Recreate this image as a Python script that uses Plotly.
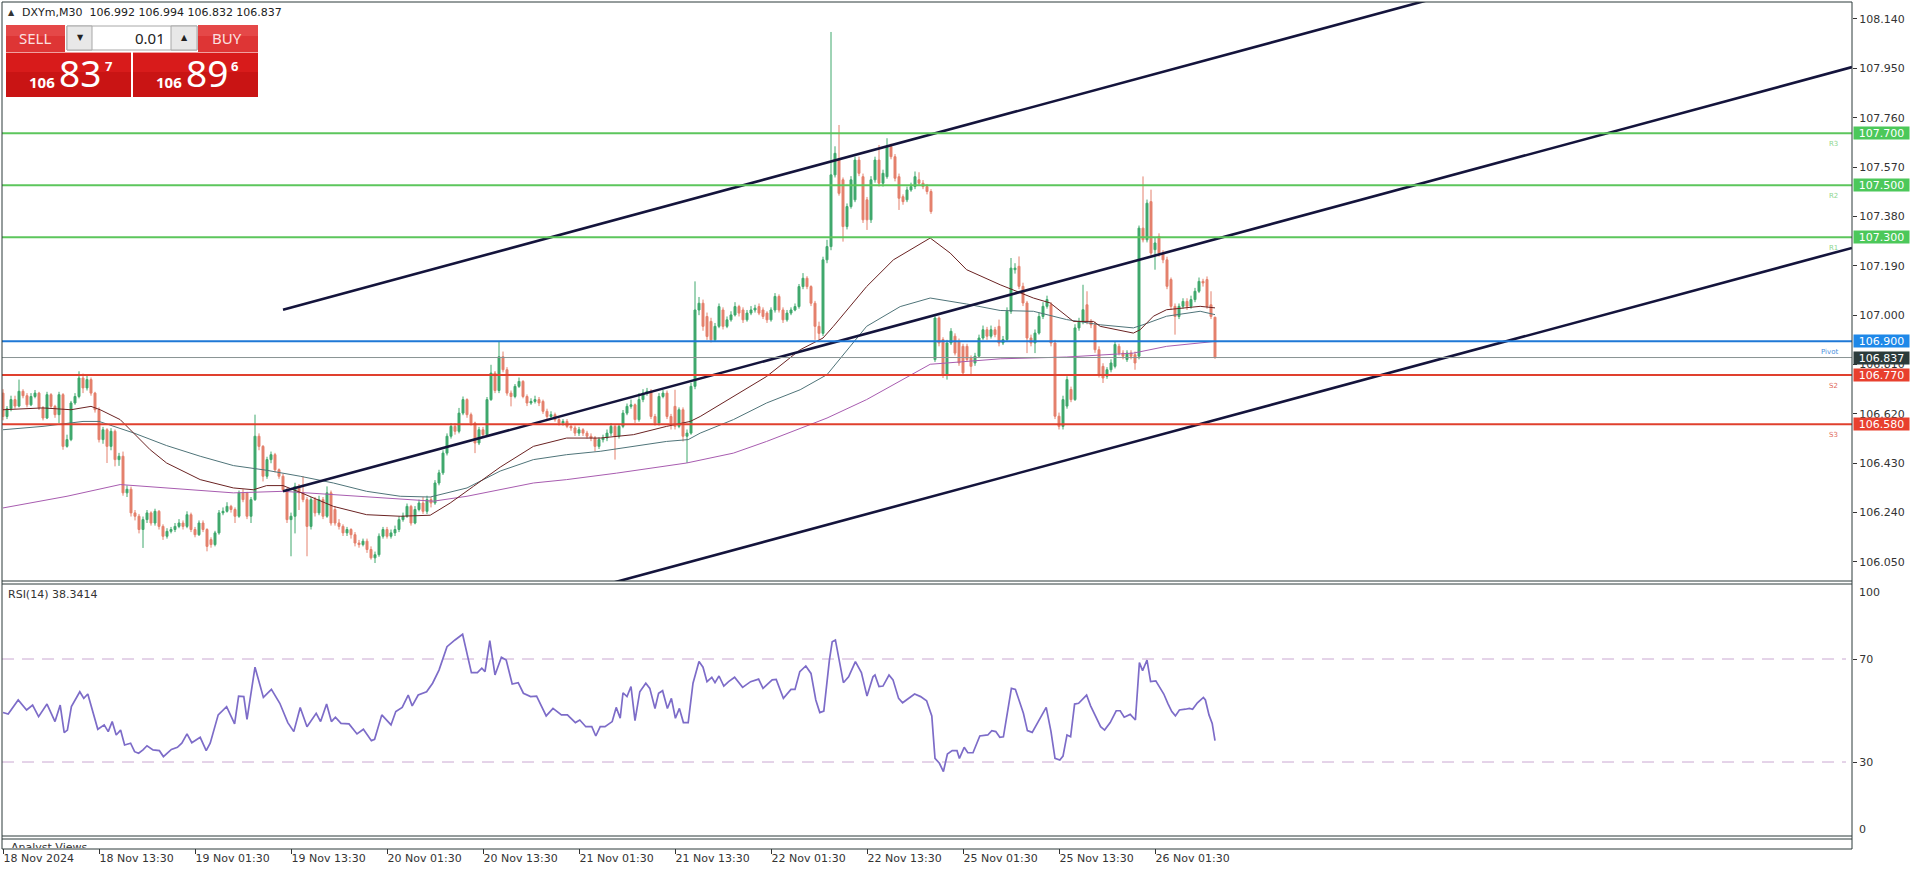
import plotly.graph_objects as go

# ------------------------------------------------------------------ data
bars = list(range(304))
opens = [106.700,106.610,106.640,106.675,106.650,106.707,106.690,106.655,106.687,106.700,
106.643,106.604,106.694,106.649,106.617,106.694,106.495,106.521,106.662,106.687,
106.758,106.720,106.752,106.700,106.636,106.521,106.559,106.495,106.553,106.444,
106.457,106.316,106.330,106.239,106.226,106.175,106.213,106.239,106.200,106.245,
106.187,106.149,106.168,106.175,106.187,106.200,106.187,106.232,106.175,106.155,
106.200,106.175,106.136,106.117,106.162,106.239,106.245,106.264,106.252,106.226,
106.316,106.316,106.226,106.290,106.534,106.495,106.380,106.444,106.463,106.405,
106.380,106.328,106.213,106.226,106.341,106.316,106.290,106.187,106.290,106.239,
106.290,106.226,106.316,106.252,106.200,106.187,106.162,106.175,106.155,106.123,
106.117,106.130,106.098,106.066,106.078,106.149,106.175,106.149,106.162,106.175,
106.213,106.226,106.264,106.200,106.252,106.277,106.245,106.290,106.277,106.354,
106.393,106.469,106.534,106.572,106.553,106.623,106.675,106.617,106.585,106.508,
106.559,106.540,106.675,106.777,106.710,106.840,106.790,106.700,106.687,106.726,
106.745,106.687,106.662,106.668,106.675,106.668,106.630,106.610,106.617,106.598,
106.585,106.591,106.572,106.566,106.546,106.559,106.546,106.534,106.527,106.495,
106.521,106.527,106.546,106.572,106.534,106.572,106.623,106.649,106.655,106.598,
106.675,106.700,106.707,106.610,106.585,106.687,106.700,106.610,106.649,106.572,
106.636,106.534,106.546,106.726,107.020,107.046,106.995,106.976,106.905,106.957,
107.020,106.957,106.982,107.001,107.033,107.020,106.982,107.008,107.020,107.033,
107.020,107.008,106.982,107.020,107.072,107.020,106.982,107.008,107.020,107.033,
107.110,107.142,107.110,107.046,106.957,106.930,107.213,107.264,107.540,107.597,
107.521,107.341,107.418,107.444,107.597,107.533,107.444,107.367,107.521,107.597,
107.508,107.533,107.649,107.610,107.533,107.456,107.444,107.482,107.495,107.521,
107.508,107.495,107.476,106.829,106.989,106.906,106.771,106.893,106.919,106.899,
106.880,106.880,106.835,106.816,106.842,106.912,106.944,106.919,106.944,106.957,
106.893,106.906,107.015,107.175,107.188,107.111,107.047,106.912,106.893,106.931,
106.995,107.034,107.040,106.893,106.611,106.572,106.650,106.714,106.675,106.951,
106.976,107.040,106.976,106.963,106.867,106.803,106.765,106.790,106.803,106.880,
106.854,106.829,106.854,106.848,106.842,107.335,107.290,107.437,107.252,107.303,
107.239,107.213,107.137,107.034,106.995,107.034,107.053,107.034,107.060,107.092,
107.130,107.137,107.040,106.992]
closes = [106.610,106.640,106.675,106.650,106.707,106.690,106.655,106.687,106.700,106.643,
106.604,106.694,106.649,106.617,106.694,106.495,106.521,106.662,106.687,106.758,
106.720,106.752,106.700,106.636,106.521,106.559,106.495,106.553,106.444,106.457,
106.316,106.330,106.239,106.226,106.175,106.213,106.239,106.200,106.245,106.187,
106.149,106.168,106.175,106.187,106.200,106.187,106.232,106.175,106.155,106.200,
106.175,106.110,106.117,106.162,106.239,106.245,106.264,106.252,106.226,106.316,
106.290,106.226,106.290,106.534,106.495,106.380,106.444,106.463,106.405,106.380,
106.328,106.213,106.226,106.341,106.316,106.290,106.187,106.290,106.239,106.290,
106.226,106.316,106.200,106.200,106.187,106.162,106.175,106.155,106.123,106.117,
106.130,106.098,106.066,106.078,106.149,106.175,106.149,106.162,106.175,106.213,
106.226,106.264,106.200,106.252,106.277,106.245,106.290,106.277,106.354,106.393,
106.469,106.534,106.572,106.553,106.623,106.675,106.617,106.585,106.508,106.559,
106.540,106.675,106.777,106.710,106.840,106.790,106.700,106.687,106.726,106.745,
106.687,106.662,106.668,106.675,106.662,106.630,106.610,106.617,106.598,106.585,
106.591,106.572,106.566,106.546,106.559,106.546,106.534,106.527,106.495,106.521,
106.527,106.546,106.572,106.534,106.572,106.623,106.649,106.655,106.598,106.675,
106.700,106.707,106.610,106.585,106.687,106.700,106.610,106.585,106.572,106.636,
106.534,106.546,106.726,107.020,107.046,106.957,106.918,106.905,106.957,107.033,
106.957,106.982,107.001,107.033,107.008,106.982,107.008,107.020,107.027,107.008,
106.995,106.982,107.020,107.072,107.020,106.982,107.008,107.020,107.033,107.110,
107.142,107.110,107.046,106.957,106.930,107.213,107.264,107.540,107.623,107.469,
107.341,107.418,107.521,107.597,107.546,107.367,107.367,107.521,107.597,107.508,
107.546,107.649,107.610,107.527,107.450,107.437,107.482,107.495,107.533,107.508,
107.495,107.476,107.399,106.989,106.893,106.771,106.893,106.938,106.854,106.816,
106.778,106.829,106.803,106.842,106.912,106.944,106.919,106.944,106.925,106.893,
106.906,107.015,107.181,107.181,107.111,107.047,106.912,106.893,106.931,106.995,
107.034,107.060,106.893,106.611,106.572,106.675,106.752,106.675,106.951,106.976,
107.021,106.976,106.963,106.867,106.771,106.758,106.790,106.816,106.887,106.854,
106.842,106.854,106.842,106.816,107.335,107.290,107.431,107.239,107.278,107.239,
107.213,107.111,107.034,106.995,107.034,107.053,107.034,107.060,107.092,107.130,
107.124,107.034,106.995,106.837]
highs = [106.715,106.650,106.690,106.690,106.752,106.715,106.700,106.700,106.712,106.705,
106.650,106.705,106.700,106.655,106.705,106.700,106.540,106.670,106.700,106.784,
106.775,106.770,106.760,106.705,106.645,106.570,106.565,106.565,106.560,106.470,
106.475,106.345,106.340,106.250,106.235,106.225,106.250,106.245,106.255,106.250,
106.195,106.180,106.185,106.200,106.215,106.210,106.245,106.240,106.185,106.210,
106.210,106.180,106.145,106.170,106.250,106.260,106.280,106.270,106.260,106.325,
106.330,106.320,106.300,106.617,106.545,106.500,106.455,106.475,106.470,106.410,
106.390,106.335,106.240,106.355,106.350,106.380,106.300,106.300,106.300,106.305,
106.300,106.341,106.325,106.265,106.215,106.195,106.185,106.180,106.165,106.135,
106.140,106.140,106.110,106.090,106.160,106.185,106.185,106.175,106.190,106.225,
106.240,106.275,106.270,106.265,106.290,106.300,106.305,106.300,106.365,106.405,
106.480,106.545,106.585,106.585,106.643,106.687,106.680,106.625,106.590,106.570,
106.570,106.685,106.809,106.785,106.900,106.860,106.800,106.710,106.735,106.760,
106.750,106.695,106.680,106.690,106.685,106.675,106.640,106.630,106.625,106.605,
106.600,106.600,106.580,106.575,106.570,106.565,106.555,106.545,106.535,106.530,
106.540,106.560,106.585,106.580,106.580,106.635,106.660,106.675,106.660,106.700,
106.715,106.720,106.715,106.620,106.700,106.712,106.710,106.620,106.713,106.645,
106.645,106.560,106.740,107.130,107.070,107.060,107.010,106.990,106.970,107.045,
107.030,106.995,107.015,107.050,107.040,107.030,107.020,107.035,107.040,107.045,
107.030,107.015,107.030,107.085,107.080,107.030,107.020,107.030,107.045,107.120,
107.162,107.150,107.115,107.055,106.975,107.225,107.290,108.090,107.650,107.732,
107.530,107.430,107.535,107.610,107.610,107.545,107.455,107.535,107.610,107.655,
107.560,107.681,107.660,107.620,107.545,107.465,107.495,107.510,107.553,107.550,
107.520,107.505,107.485,106.996,106.995,106.915,106.905,106.950,106.930,106.910,
106.890,106.890,106.845,106.855,106.925,106.960,106.955,106.960,106.955,106.983,
106.920,107.030,107.220,107.200,107.226,107.125,107.055,106.925,106.945,107.010,
107.050,107.075,107.050,106.905,106.625,106.690,106.765,106.725,106.965,106.990,
107.117,107.092,106.985,106.975,106.880,106.815,106.800,106.830,106.900,106.890,
106.865,106.865,106.865,106.860,107.345,107.534,107.445,107.483,107.300,107.315,
107.250,107.225,107.145,107.045,107.045,107.065,107.065,107.075,107.105,107.145,
107.140,107.149,107.092,106.994]
lows = [106.595,106.600,106.630,106.640,106.645,106.680,106.645,106.650,106.680,106.635,
106.595,106.600,106.640,106.605,106.585,106.482,106.490,106.515,106.655,106.680,
106.700,106.710,106.690,106.625,106.510,106.505,106.431,106.480,106.418,106.420,
106.305,106.300,106.225,106.210,106.160,106.104,106.200,106.190,106.190,106.175,
106.135,106.140,106.160,106.165,106.180,106.175,106.180,106.165,106.145,106.150,
106.165,106.091,106.105,106.110,106.155,106.230,106.240,106.240,106.200,106.220,
106.280,106.215,106.200,106.285,106.480,106.360,106.370,106.430,106.395,106.370,
106.320,106.200,106.072,106.160,106.250,106.280,106.072,106.175,106.225,106.230,
106.215,106.220,106.190,106.190,106.175,106.150,106.150,106.140,106.110,106.105,
106.110,106.085,106.059,106.046,106.070,106.140,106.140,106.140,106.150,106.165,
106.205,106.220,106.190,106.195,106.245,106.235,106.235,106.260,106.270,106.345,
106.385,106.460,106.525,106.540,106.545,106.615,106.605,106.575,106.469,106.500,
106.530,106.535,106.670,106.700,106.700,106.780,106.690,106.649,106.680,106.720,
106.680,106.650,106.655,106.660,106.650,106.620,106.600,106.600,106.590,106.575,
106.575,106.565,106.555,106.535,106.535,106.535,106.525,106.515,106.476,106.485,
106.510,106.515,106.535,106.444,106.525,106.565,106.615,106.640,106.585,106.590,
106.665,106.690,106.600,106.575,106.575,106.680,106.600,106.560,106.560,106.565,
106.514,106.431,106.540,106.715,107.000,106.940,106.905,106.895,106.900,106.950,
106.945,106.950,106.975,106.995,106.995,106.970,106.975,107.000,107.010,107.000,
106.985,106.970,106.975,107.010,107.010,106.970,106.975,107.000,107.015,107.025,
107.100,107.100,107.035,106.905,106.905,106.920,107.200,107.250,107.530,107.460,
107.283,107.330,107.410,107.435,107.535,107.355,107.328,107.355,107.510,107.495,
107.495,107.525,107.600,107.515,107.405,107.425,107.435,107.475,107.485,107.500,
107.485,107.465,107.390,106.820,106.880,106.758,106.752,106.885,106.845,106.805,
106.771,106.820,106.771,106.805,106.835,106.905,106.905,106.910,106.915,106.880,
106.885,106.900,107.005,107.160,107.100,107.035,106.854,106.880,106.854,106.925,
106.985,107.025,106.880,106.600,106.560,106.560,106.640,106.665,106.670,106.940,
106.965,106.965,106.950,106.855,106.760,106.739,106.755,106.780,106.795,106.845,
106.830,106.820,106.830,106.790,106.830,107.280,107.280,107.225,107.175,107.225,
107.200,107.100,107.020,106.925,106.985,107.025,107.020,107.025,107.050,107.085,
107.110,107.025,106.985,106.832]

# moving averages, read at intervals (bar index, price)
ma_fast_bar = [0,10,17,22,24.3,29.3,32.6,36.8,40.9,49.3,57.6,62.6,65.9,70,74.3,82.6,90.9,99.3,106.8,111.8,117.6,
               124.3,132.6,140.9,149.3,157.6,165.9,171.8,174.3,182.6,190.9,199.3,205,207.6,215.9,222.6,228,231.8,
               236.8,240.9,249.3,257.6,261.8,267.6,272.6,274.3,282.6,284.3,287.6,290.9,299.3,303]
ma_fast_val = [106.636,106.643,106.636,106.649,106.636,106.598,106.547,106.482,106.431,106.367,106.335,106.328,106.344,106.344,106.318,106.264,106.232,106.226,106.230,106.277,106.341,
               106.415,106.495,106.527,106.527,106.540,106.572,106.591,106.610,106.687,106.764,106.867,106.912,106.957,107.110,107.213,107.264,107.297,
               107.239,107.175,107.117,107.066,107.047,106.976,106.976,106.957,106.931,106.944,106.996,107.021,107.034,107.028]
ma_mid_bar = [0,10,20,24,32.6,40.9,49.3,57.6,65.9,74.3,82.6,90.9,99.3,106.8,116,124.3,132.6,140.9,149.3,157.6,165.9,
              171.3,174.3,182.6,190.9,199.3,206,215.9,224.3,231.8,240.9,249.3,257.6,265.9,274.3,282.6,285,290.9,299.3,303]
ma_mid_val = [106.559,106.572,106.591,106.591,106.547,106.498,106.457,106.421,106.403,106.380,106.354,106.322,106.303,106.300,106.335,106.400,106.444,106.463,106.476,106.495,106.514,
              106.521,106.546,106.598,106.662,106.713,106.771,106.957,107.033,107.066,107.043,107.018,107.015,106.983,106.963,106.951,106.963,106.996,107.015,107.002]
ma_slow_bar = [0,16,29.3,40.9,57.6,70,82.6,99.3,107.6,116,124.3,132.6,140.9,153.4,170.9,182.6,190.9,206,215.9,224.3,
               231.8,249.3,265.9,282.6,290.9,303]
ma_slow_val = [106.258,106.303,106.348,106.335,106.316,106.322,106.309,106.290,106.284,106.303,106.328,106.354,106.367,106.392,106.431,106.469,106.514,106.604,106.675,106.748,
               106.811,106.832,106.839,106.854,106.880,106.899]

# equidistant channel (bar index, price)
channel_bar = [70, 462.25]
channel_upper = [107.021, 108.654]
channel_middle = [106.322, 107.955]
channel_lower_bar = [150, 462.25]
channel_lower = [105.960, 107.259]

# pivot levels
levels = [107.700, 107.500, 107.300, 106.900, 106.770, 106.580]
level_names = ["R3", "R2", "R1", "Pivot", "S2", "S3"]
last_price = 106.837

price_ticks = [106.050, 106.240, 106.430, 106.620, 106.810, 107.000, 107.190, 107.380, 107.570, 107.760, 107.950, 108.140]

# RSI(14), read at intervals (bar index, value)
rsi_x = [0,1.3,3.8,5.9,7.4,8.9,11,13,14.3,15.3,16.1,17.1,19.2,20.2,21.2,23.7,25.3,26.3,27.3,28.3,29.4,30.4,31.9,32.9,33.9,35,36,37.5,
         39.1,40.1,42.1,43.6,44.7,46,47.2,49.3,50.8,51.8,53.8,55.9,57.9,58.9,60.2,61,63,65.1,67.1,69.2,71.2,72.7,74.3,76,78.3,79.4,
         80.9,82.1,83.1,84.5,86.5,88.5,90.1,92.1,92.9,94.7,97,98.2,99.8,101.3,102.3,103.8,105.9,107.4,109,111,113,114.9,117.1,118.6,
         119.7,120.5,121.7,123,124.6,125.8,127.3,128.8,130.1,131.9,133.4,135.8,137.5,139.6,141.1,143.1,144.2,145.7,147.2,148.2,149.3,
         150.5,152.3,153.3,154.3,155,156,157,158,159.2,160.7,161.7,163,163.9,164.9,166.1,167.1,168.1,169.1,170.1,171.3,172.5,174,175,
         176,177.2,178,179,180.2,181.4,182.9,184.9,186.9,188.9,190,192.3,193.3,195.1,197,198,199.2,200.7,202,203.2,204.2,205.2,206.6,
         207.3,208.1,210.1,211.4,213.1,214.6,216,217.5,218,219,220,221.5,222.5,223.9,224.9,227.9,229.4,230.9,232.2,233,234.1,235.1,
         236.1,237.3,238.5,239.1,240.3,241.2,242.5,244.2,246.2,247.2,248.2,249.2,250.1,252.1,253.1,255.1,256.1,257.3,259,260.8,262,
         263,264.2,265,266,266.9,267.9,268.9,270.9,271.9,274.4,275.4,276.8,278.3,279.3,280.3,281.8,283.1,284.1,284.9,286,286.9,288.2,
         290.2,291.2,292.2,293.1,294.1,295.6,296.6,297.4,298.6,300.1,300.6,301.5,302.3,303]
rsi_y = [49.2,48.6,54.1,50.2,52.1,47.6,52.5,45.7,52.1,41.4,42.4,51.5,57.3,54.7,56.4,42.7,44.4,41.8,45.7,40.5,42.4,36.6,37.3,34.0,33.4,34.7,36.3,34.7,
         34.4,32.1,34.9,35.7,37.3,40.9,37.5,39.6,34.4,37.3,48.3,51.5,44.8,55.6,55.4,46.6,66.8,55.1,58.2,52.8,45.3,41.8,51.2,43.7,48.9,45.7,
         52.5,45.7,47.4,45.0,44.8,40.9,42.7,38.3,38.8,48.3,44.4,49.6,51.2,56.0,51.8,56.0,57.3,60.6,65.7,74.8,77.4,79.6,64.7,64.7,
         66.4,65.1,77.1,63.8,70.7,69.6,60.3,60.8,56.7,55.4,55.6,47.9,50.8,48.3,48.3,45.3,46.3,43.7,43.7,40.1,43.7,
         43.7,45.7,51.2,47.0,56.9,55.4,59.3,46.1,57.3,60.6,58.6,50.8,56.7,57.7,50.8,54.7,47.0,50.8,45.3,45.3,60.6,69.0,66.8,
         61.2,62.9,60.8,63.4,59.5,61.2,62.9,59.0,61.2,62.2,58.6,61.9,62.1,54.7,58.2,58.2,65.1,67.3,64.4,54.1,49.2,49.8,69.6,
         76.7,77.4,60.8,63.1,69.0,64.7,55.6,63.1,63.8,59.3,59.5,63.8,61.9,54.7,53.0,56.4,55.4,53.8,47.9,31.4,29.5,26.3,
         33.1,34.4,34.4,31.4,35.7,33.6,33.6,40.1,40.5,42.2,41.8,39.6,39.8,58.6,58.2,48.9,42.2,41.5,46.3,51.2,41.8,
         31.4,30.8,32.3,40.5,39.8,52.5,52.8,56.0,51.8,43.7,42.4,45.3,49.9,49.9,47.4,48.5,46.3,68.6,65.5,69.6,61.2,61.5,
         56.4,52.8,49.6,47.9,50.2,50.5,50.8,50.5,53.0,55.1,54.1,48.3,45.0,38.34]
rsi_levels = [70, 30]

time_tick_bars = [0, 24, 48, 72, 96, 120, 144, 168, 192, 216, 240, 264, 288]
time_tick_labels = ["18 Nov 2024", "18 Nov 13:30", "19 Nov 01:30", "19 Nov 13:30", "20 Nov 01:30", "20 Nov 13:30",
                    "21 Nov 01:30", "21 Nov 13:30", "22 Nov 01:30", "22 Nov 13:30", "25 Nov 01:30", "25 Nov 13:30",
                    "26 Nov 01:30"]

# ------------------------------------------------------------------ styling helpers
FONT = "DejaVu Sans"
UP, DN = "#3fa86c", "#e4806c"
FRAME = "#2d3b3b"
W_PX, H_PX = 1916, 874
L, R, T, B = 2, 64, 2, 26


def fx(x):
    return (x - L) / (W_PX - L - R)


def fy(y):
    return (H_PX - B - y) / (H_PX - T - B)


fig = go.Figure()

fig.add_trace(go.Candlestick(
    x=bars, open=opens, high=highs, low=lows, close=closes,
    increasing=dict(line=dict(color=UP, width=1), fillcolor=UP),
    decreasing=dict(line=dict(color=DN, width=1), fillcolor=DN),
    whiskerwidth=0, xaxis="x", yaxis="y", hoverinfo="skip", showlegend=False))

for xs, ys, col in [(ma_slow_bar, ma_slow_val, "#a85cb0"),
                    (ma_mid_bar, ma_mid_val, "#4f7479"),
                    (ma_fast_bar, ma_fast_val, "#6a2222")]:
    fig.add_trace(go.Scatter(x=xs, y=ys, mode="lines", line=dict(color=col, width=1),
                             xaxis="x", yaxis="y", hoverinfo="skip", showlegend=False))

for xs, ys in [(channel_bar, channel_upper), (channel_bar, channel_middle), (channel_lower_bar, channel_lower)]:
    fig.add_trace(go.Scatter(x=xs, y=ys, mode="lines", line=dict(color="#14143c", width=2.6),
                             xaxis="x", yaxis="y", hoverinfo="skip", showlegend=False))

fig.add_trace(go.Scatter(x=rsi_x, y=rsi_y, mode="lines", line=dict(color="#7d6cc8", width=1.7),
                         xaxis="x", yaxis="y2", hoverinfo="skip", showlegend=False))

# "Analyst Views" sub-window title, clipped by its very short window
fig.add_trace(go.Scatter(x=[2], y=[-1.1], mode="text", text=["Analyst Views"], textposition="middle right",
                         textfont=dict(family=FONT, size=11, color="#333333"), cliponaxis=True,
                         xaxis="x", yaxis="y3", hoverinfo="skip", showlegend=False))

shapes = []
annotations = []

# pivot level lines and their axis tags
lvl_line = ["#5cc65c", "#5cc65c", "#5cc65c", "#1f78d6", "#e0402e", "#e0402e"]
lvl_box = ["#4cc85a", "#4cc85a", "#4cc85a", "#1e88e8", "#e8402e", "#e8402e"]
lvl_txt = ["#8fd68f", "#8fd68f", "#8fd68f", "#4a8fdc", "#e06a5a", "#e06a5a"]
for lv, name, lc, bc, tc in zip(levels, level_names, lvl_line, lvl_box, lvl_txt):
    shapes.append(dict(type="line", xref="paper", yref="y", x0=0, x1=1, y0=lv, y1=lv,
                       line=dict(color=lc, width=2), layer="above"))
    annotations.append(dict(xref="paper", yref="y", x=fx(1840), y=lv, xanchor="right", yanchor="middle",
                            yshift=-11, text=name, showarrow=False, font=dict(family=FONT, size=7, color=tc)))
    annotations.append(dict(xref="paper", yref="y", x=fx(1853), y=lv, xanchor="left", yanchor="middle",
                            text=f"{lv:.3f}", showarrow=False, bgcolor=bc, width=55, height=12, borderpad=0,
                            font=dict(family=FONT, size=11, color="white")))
shapes.append(dict(type="line", xref="paper", yref="y", x0=0, x1=1, y0=last_price, y1=last_price,
                   line=dict(color="#8a9494", width=1), layer="above"))
annotations.append(dict(xref="paper", yref="y", x=fx(1853), y=last_price, xanchor="left", yanchor="middle",
                        text=f"{last_price:.3f}", showarrow=False, bgcolor="#2b3b3b", width=55, height=12,
                        borderpad=0, font=dict(family=FONT, size=11, color="white")))

# RSI reference levels
for lv in rsi_levels:
    shapes.append(dict(type="line", xref="paper", yref="y2", x0=0, x1=fx(1846), y0=lv, y1=lv,
                       line=dict(color="#caa8d2", width=1, dash="12px,8px"), layer="below"))
annotations.append(dict(xref="paper", yref="paper", x=fx(1857), y=fy(592), xanchor="left", yanchor="middle",
                        text="100", showarrow=False, font=dict(family=FONT, size=11, color="#333333")))
annotations.append(dict(xref="paper", yref="paper", x=fx(1857), y=fy(829), xanchor="left", yanchor="middle",
                        text="0", showarrow=False, font=dict(family=FONT, size=11, color="#333333")))
annotations.append(dict(xref="paper", yref="paper", x=fx(6), y=fy(594), xanchor="left", yanchor="middle",
                        text="RSI(14) 38.3414", showarrow=False, font=dict(family=FONT, size=11, color="#333333")))

# window frames
for y in [2, 581, 584, 836, 839, 849]:
    shapes.append(dict(type="line", xref="paper", yref="paper", x0=fx(2), x1=fx(1852), y0=fy(y), y1=fy(y),
                       line=dict(color=FRAME, width=1), layer="above"))
for x in [2, 1852]:
    shapes.append(dict(type="line", xref="paper", yref="paper", x0=fx(x), x1=fx(x), y0=fy(2), y1=fy(849),
                       line=dict(color=FRAME, width=1), layer="above"))

# title
annotations.append(dict(xref="paper", yref="paper", x=fx(6), y=fy(13), xanchor="left", yanchor="middle",
                        text="\u25b2", showarrow=False, font=dict(family=FONT, size=8, color="#333333")))
annotations.append(dict(xref="paper", yref="paper", x=fx(20), y=fy(13), xanchor="left", yanchor="middle",
                        text="DXYm,M30\u00a0\u00a0106.992 106.994 106.832 106.837", showarrow=False,
                        font=dict(family=FONT, size=11, color="#222222")))


# one-click trading panel
def rect(x0, y0, x1, y1, fill, lc=None, lw=0):
    shapes.append(dict(type="rect", xref="paper", yref="paper", x0=fx(x0), x1=fx(x1), y0=fy(y1), y1=fy(y0),
                       fillcolor=fill, line=dict(color=lc or fill, width=lw), layer="above"))


def label(x, y, text, size, color, fam="Noto Sans", bold=False):
    t = f"<b>{text}</b>" if bold else text
    annotations.append(dict(xref="paper", yref="paper", x=fx(x), y=fy(y), xanchor="center", yanchor="middle",
                            text=t, showarrow=False, font=dict(family=fam, size=size, color=color)))


rect(6, 25, 65, 52, "#de3535")
rect(6, 25, 65, 36, "#e54848")
rect(198, 25, 258, 52, "#de3535")
rect(198, 25, 258, 36, "#e54848")
rect(67, 26, 197, 50, "#ffffff", "#a8a8a8", 1)
rect(67, 26, 92, 50, "#e8e8e8", "#a8a8a8", 1)
rect(171, 26, 197, 50, "#e8e8e8", "#a8a8a8", 1)
for x0, x1 in [(6, 131), (133, 258)]:
    rect(x0, 52, x1, 97, "#c91414")
    rect(x0, 52, x1, 72, "#d81b1b")
    shapes.append(dict(type="line", xref="paper", yref="paper", x0=fx(x0), x1=fx(x1), y0=fy(52.5), y1=fy(52.5),
                       line=dict(color="#f0a0a0", width=1), layer="above"))
label(35, 38.5, "SELL", 15, "#fbe0e0")
label(227, 38.5, "BUY", 15, "#fbe0e0")
label(150, 38, "0.01", 15, "#222222")
label(80, 38, "\u25bc", 8, "#222222", FONT)
label(184, 38, "\u25b2", 8, "#222222", FONT)
label(42, 82, "106", 15, "white", bold=True)
label(80, 73, "83", 37, "white")
label(108, 66, "7", 13, "white", bold=True)
label(169, 82, "106", 15, "white", bold=True)
label(207, 73, "89", 37, "white")
label(235, 66, "6", 13, "white", bold=True)

fig.update_layout(
    width=W_PX, height=H_PX, margin=dict(l=L, r=R, t=T, b=B, pad=0),
    paper_bgcolor="white", plot_bgcolor="white", showlegend=False, hovermode=False,
    font=dict(family=FONT, size=11, color="#333333"),
    xaxis=dict(domain=[0, 1], range=[-0.25, 462.25], anchor="y3", tickmode="array",
               tickvals=time_tick_bars, ticktext=time_tick_labels, ticks="outside", ticklen=5,
               tickcolor="#333333", ticklabelposition="outside right", showgrid=False, zeroline=False,
               showline=False, rangeslider=dict(visible=False), fixedrange=True,
               tickfont=dict(family=FONT, size=11, color="#333333")),
    yaxis=dict(domain=[fy(581), 1], range=[105.9768, 108.2054], side="right", anchor="x", tickmode="array",
               tickvals=price_ticks, ticktext=[f"{v:.3f}" for v in price_ticks], ticks="outside", ticklen=4,
               tickcolor="#333333", showgrid=False, zeroline=False, showline=False, fixedrange=True,
               tickfont=dict(family=FONT, size=11, color="#333333")),
    yaxis2=dict(domain=[fy(836), fy(584)], range=[1.26, 99.13], side="right", anchor="x", tickmode="array",
                tickvals=rsi_levels, ticktext=[str(v) for v in rsi_levels], ticks="outside", ticklen=4,
                tickcolor="#333333", showgrid=False, zeroline=False, showline=False, fixedrange=True,
                tickfont=dict(family=FONT, size=11, color="#333333")),
    yaxis3=dict(domain=[0, fy(839)], range=[-1, 1], side="right", anchor="x", showticklabels=False, ticks="",
                showgrid=False, zeroline=False, showline=False, fixedrange=True),
    shapes=shapes, annotations=annotations,
)

fig.write_html("out.html", config={"displayModeBar": False, "staticPlot": True},
               post_script="document.body.style.margin='0';document.body.style.overflow='hidden';")
